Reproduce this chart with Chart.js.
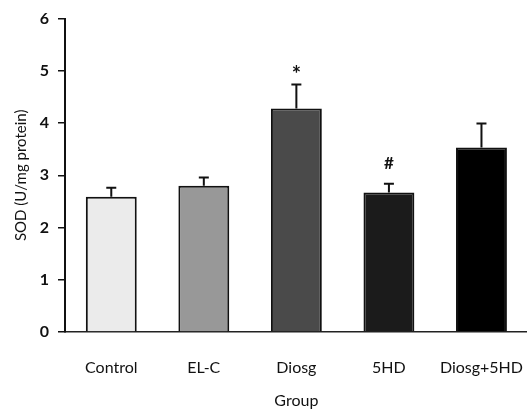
<!DOCTYPE html>
<html>
<head>
<meta charset="utf-8">
<script src="https://cdn.jsdelivr.net/npm/chart.js"></script>
<style>
  html, body { margin: 0; padding: 0; background: #fff; overflow: hidden; }
  #wrap { width: 541px; height: 410px; }
</style>
</head>
<body>
<div id="wrap"><canvas id="sodChart"></canvas></div>
<script>
// values
const groups = ['Control', 'EL-C', 'Diosg', '5HD', 'Diosg+5HD'];
const sodMeans = [2.59, 2.80, 4.28, 2.67, 3.53];
const sodErrors = [0.17, 0.16, 0.46, 0.17, 0.46];
const marks = ['', '', '*', '#', ''];
const barColors = ['#ebebeb', '#989898', '#4a4a4a', '#1b1b1b', '#000000'];
const yTicks = [0, 1, 2, 3, 4, 5, 6];

const FONT = 'Lato, "Open Sans", sans-serif';

// draws the upper error bars and the significance marks
const errorBars = {
    id: 'errorBars',
    afterDatasetsDraw(chart) {
        const c = chart.ctx;
        const y = chart.scales.y;
        const meta = chart.getDatasetMeta(0);
        c.save();
        c.strokeStyle = '#111';
        c.lineWidth = 2;
        meta.data.forEach((bar, i) => {
            const top = y.getPixelForValue(sodMeans[i] + sodErrors[i]);
            c.beginPath();
            c.moveTo(bar.x, bar.y);
            c.lineTo(bar.x, top);
            c.moveTo(bar.x - 5, top);
            c.lineTo(bar.x + 5, top);
            c.stroke();
            if (marks[i]) {
                c.fillStyle = '#111';
                c.textAlign = 'center';
                c.textBaseline = 'middle';
                if (marks[i] === '*') {
                    c.font = 'bold 22px ' + FONT;
                    c.fillText(marks[i], bar.x, top - 10);
                } else {
                    c.font = 'bold 17px ' + FONT;
                    c.fillText(marks[i], bar.x, top - 20);
                }
            }
        });
        c.restore();
    }
};

new Chart(document.getElementById('sodChart'), {
    type: 'bar',
    data: {
        labels: groups,
        datasets: [{
            data: sodMeans,
            backgroundColor: barColors,
            borderColor: '#111',
            borderWidth: 2,
            barPercentage: 0.55,
            categoryPercentage: 1
        }]
    },
    options: {
        responsive: true,
        maintainAspectRatio: false,
        animation: false,
        layout: { padding: { top: 13, right: 0, left: 0, bottom: 0 } },
        plugins: {
            legend: { display: false },
            tooltip: { enabled: false }
        },
        scales: {
            x: {
                grid: { display: false },
                border: { color: '#222', width: 1.5 },
                ticks: { color: '#111', font: { family: FONT, size: 16 }, padding: 18 },
                title: { display: true, text: 'Group', color: '#111', font: { family: FONT, size: 16 }, padding: { top: 8, bottom: 0 } },
                afterFit(scale) { scale.height = 78; }
            },
            y: {
                min: 0,
                max: 6,
                afterBuildTicks(scale) { scale.ticks = yTicks.map(v => ({ value: v })); },
                grid: { display: true, drawOnChartArea: false, drawTicks: true, tickLength: 7, color: '#111', lineWidth: 1.5 },
                border: { color: '#111', width: 2 },
                ticks: { color: '#111', font: { family: FONT, size: 16, weight: 'bold' }, padding: 9 },
                title: { display: true, text: 'SOD (U/mg protein)', color: '#111', font: { family: FONT, size: 15 }, padding: { top: 12, bottom: 4 } },
                afterFit(scale) { scale.width = 65; }
            }
        }
    },
    plugins: [errorBars]
});
</script>
</body>
</html>
